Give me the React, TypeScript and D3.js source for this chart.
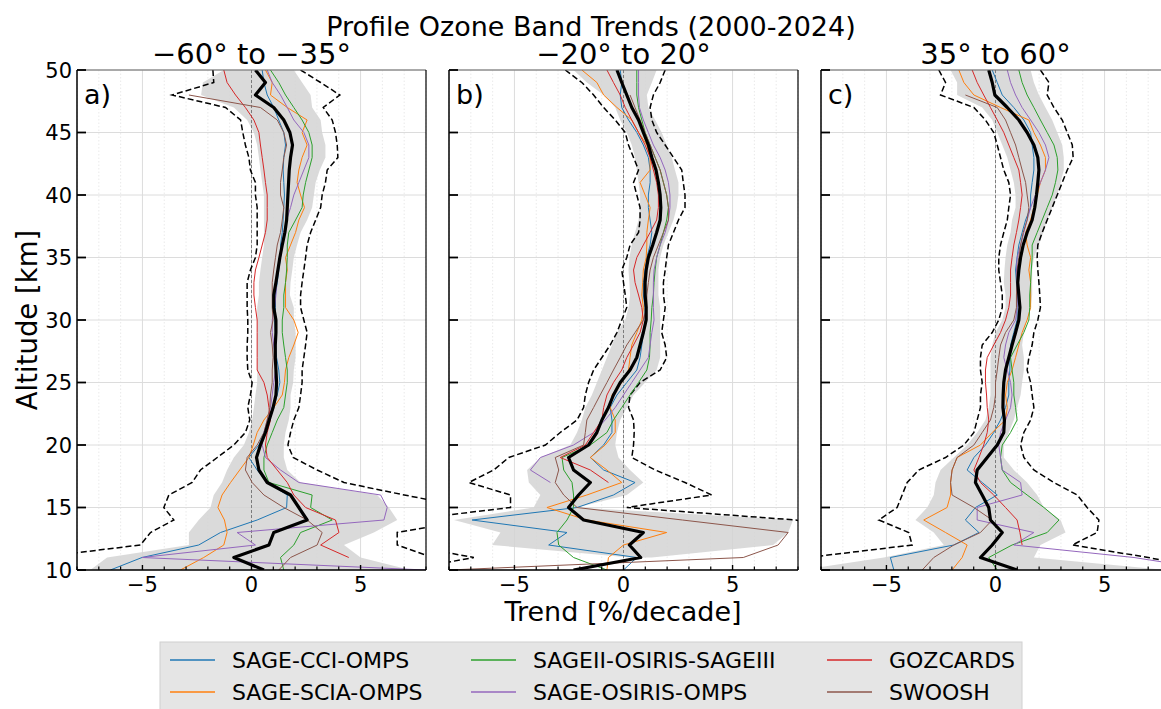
import React from 'react';
import * as d3 from 'd3';

// Altitude grid (km), top to bottom
const ALT = [50,49,48,47,46,45,44,43,42,41,40,39,38,37,36,35,34,33,32,31,30,29,28,27,26,25,24,23,22,21,20,19,18,17,16,15,14,13,12,11,10];

const SERIES_NAMES = ['SAGE-CCI-OMPS','SAGE-SCIA-OMPS','SAGEII-OSIRIS-SAGEIII','SAGE-OSIRIS-OMPS','GOZCARDS','SWOOSH'];
const SERIES_COLORS = ['#1f77b4','#ff7f0e','#2ca02c','#9467bd','#d62728','#8c564b'];
const PANEL_TITLES = ['\u221260\u00b0 to \u221235\u00b0','\u221220\u00b0 to 20\u00b0','35\u00b0 to 60\u00b0'];
const PANEL_LETTERS = ['a)','b)','c)'];
const X_TICKS = [-5,0,5];
const X_MINOR = [-8,-7,-6,-4,-3,-2,-1,1,2,3,4,6,7,8];
const Y_TICKS = [10,15,20,25,30,35,40,45,50];

type V = number | null;

// ---------- Panel a: -60 to -35 ----------
const A_MEAN: V[] = [0.18,0.64,0.18,1.02,1.48,1.76,1.88,1.79,1.73,1.70, 1.67,1.64,1.61,1.53,1.41,1.30,1.21,1.12,1.02,1.02, 1.12,1.12,1.09,1.09,1.12,1.15,1.12,0.99,0.81,0.64, 0.41,0.23,0.34,0.72,1.79,2.17,2.55,1.02,0.80,-0.81, 0.57];
const A_SHADE_LO: V[] = [-1.27,-2.23,-2.31,-0.81,-0.20,0.11,0.26,0.34,0.41,0.49, 0.57,0.57,0.57,0.57,0.57,0.49,0.41,0.34,0.34,0.26, 0.26,0.26,0.26,0.26,0.26,0.26,0.18,0.11,0.03,-0.12, -0.35,-0.81,-1.12,-1.35,-1.73,-1.88,-2.42,-2.87,-2.87,-6.62, -7.39];
const A_SHADE_HI: V[] = [1.94,2.32,2.71,2.78,3.17,3.24,3.39,3.39,3.13,2.94, 2.86,2.78,2.55,2.25,2.09,1.94,1.87,1.79,1.76,1.94, 1.94,2.02,2.02,2.02,1.94,1.91,1.79,1.79,1.71,1.56, 1.48,1.48,1.64,2.25,5.76,6.30,6.68,5.61,4.24,5.00, 7.29];
const A_DASH_LO: V[] = [-1.77,-1.73,-3.64,-1.19,-0.50,-0.40,-0.28,-0.12,-0.05,0.18, 0.18,0.26,0.26,0.26,0.26,0.18,-0.05,-0.20,-0.20,-0.20, -0.17,-0.17,-0.20,-0.20,-0.17,0.03,-0.05,-0.17,-0.08,-0.28, -0.81,-1.57,-2.34,-2.72,-3.79,-4.02,-3.56,-4.63,-5.09,-9.8, -10];
const A_DASH_HI: V[] = [2.25,3.17,4.05,3.29,3.70,3.85,3.93,3.96,3.47,3.39, 3.24,3.17,2.94,2.71,2.55,2.48,2.40,2.32,2.25,2.25, 2.40,2.55,2.48,2.40,2.32,2.32,2.25,2.17,1.94,1.79, 1.67,1.91,3.01,4.24,7.0,10,10,6.68,6.68,8.3, 10];
const A_CCI: V[] = [0.49,0.57,0.72,1.02,1.25,1.48,1.56,1.48,1.45,1.48, 1.51,1.48,1.45,1.41,1.33,1.33,1.25,1.18,1.10,1.10, 1.06,1.10,1.10,1.15,1.25,1.30,1.18,1.02,0.80,0.57, 0.34,-0.12,0.26,0.72,1.64,1.61,0.26,-1.42,-2.42,-5.02, -6.47];
const A_SCIA: V[] = [0.64,0.95,0.87,1.64,2.55,2.32,2.55,2.32,2.17,2.09, 2.25,2.43,2.17,2.02,1.79,1.56,1.64,1.56,1.56,1.56, 1.94,2.14,1.94,1.71,1.56,1.51,1.41,1.02,0.57,0.26, 0.08,-0.12,-0.54,-0.96,-1.35,-1.54,-1.24,-1.12,-1.27,-2.19, -3.26];
const A_SAGEII: V[] = [0.87,1.25,1.56,1.94,2.32,2.63,2.78,2.78,2.63,2.48, 2.37,2.32,2.02,1.71,1.64,1.64,1.61,1.56,1.48,1.48, 1.41,1.41,1.48,1.56,1.64,1.64,1.56,1.48,1.18,0.95, 0.72,0.57,0.57,0.80,2.78,2.71,3.70,2.25,1.94,1.33, 1.48];
const A_OSIRIS: V[] = [0.72,0.95,1.33,1.64,1.94,2.40,2.63,2.63,2.40,2.17, 1.94,1.79,1.61,1.48,1.41,1.33,1.21,1.15,1.12,1.06, 0.95,0.95,1.02,1.10,1.10,1.02,0.95,0.87,0.72,0.57, 0.49,0.64,1.33,2.17,5.92,6.22,6.07,-0.66,0.18,-5.02, 7.98];
const A_GOZ: V[] = [-1.27,-1.12,-0.73,-0.28,0.11,0.34,0.41,0.49,0.57,0.64, 0.72,0.72,0.72,0.64,0.49,0.34,0.18,0.11,0.11,0.18, 0.26,0.26,0.26,0.26,0.26,0.57,0.72,0.80,0.87,0.72, 0.64,0.72,1.18,1.64,1.94,2.48,3.85,4.01,3.17,4.46, null];
const A_SWOOSH: V[] = [null,null,-2.87,0.41,1.18,1.48,1.61,1.48,1.41,1.33, 1.33,1.48,1.41,1.33,1.18,1.10,1.02,0.95,0.95,0.95, 0.99,0.87,0.95,0.99,0.95,0.95,0.87,0.84,0.72,0.57, 0.26,-0.20,-0.28,0.03,0.57,1.48,2.55,3.24,3.01,1.79, 1.25];

// ---------- Panel b: -20 to 20 ----------
const B_MEAN: V[] = [-0.30,-0.08,0.15,0.38,0.69,0.91,1.14,1.30,1.49,1.60, 1.68,1.71,1.68,1.52,1.34,1.14,1.04,0.99,0.99,1.04, 1.04,0.91,0.76,0.61,0.30,-0.15,-0.46,-0.69,-0.99,-1.22, -1.60,-2.52,-2.29,-1.52,-2.06,-2.52,-1.83,0.91,0.27,0.79, -2.29];
const B_SHADE_LO: V[] = [-2.29,-1.68,-0.91,-0.38,-0.15,0.15,0.38,0.53,0.61,0.69, 0.76,0.76,0.69,0.53,0.38,0.27,0.23,0.27,0.30,0.23, 0.08,-0.30,-0.53,-0.76,-0.99,-1.22,-1.45,-1.75,-1.91,-2.13, -2.44,-3.81,-4.42,-4.34,-3.81,-4.12,-7.77,-5.64,-6.02,0.30, null];
const B_SHADE_HI: V[] = [1.52,1.30,1.07,1.14,1.45,1.75,1.98,2.21,2.36,2.52, 2.52,2.44,2.29,2.06,1.83,1.68,1.60,1.60,1.60,1.68, 1.68,1.68,1.68,1.68,1.52,0.99,0.46,0.15,-0.15,-0.30, -0.38,-0.23,0.30,0.91,0.15,-2.13,7.77,7.55,6.86,1.30, null];
const B_DASH_LO: V[] = [-2.67,-1.91,-1.37,-0.91,-0.38,0.08,0.23,0.46,0.69,0.46, 0.61,0.76,0.76,0.69,0.30,0.15,-0.08,0.00,0.08,0.15, -0.08,-0.30,-0.61,-0.99,-1.37,-1.60,-1.75,-1.83,-2.13,-2.90, -3.58,-5.26,-5.95,-7.09,-5.18,-5.18,-10,-10,-10,-6.86, -10];
const B_DASH_HI: V[] = [1.91,1.68,1.37,1.22,1.30,1.52,1.91,2.29,2.67,2.74, 2.82,2.82,2.52,2.29,2.06,1.98,1.91,1.83,1.83,1.91, 1.83,1.75,1.91,1.98,1.68,0.76,0.30,0.23,0.46,0.49, 0.46,0.38,1.45,2.82,4.04,0.15,7.9,10,10,10, 10];
const B_CCI: V[] = [-0.15,-0.08,-0.15,-0.08,0.23,0.61,0.91,1.14,1.22,1.22, 1.14,1.14,1.22,1.30,1.22,1.07,0.99,0.91,0.91,0.99, 0.99,0.91,0.84,0.76,0.61,0.15,-0.30,-0.61,-0.53,-0.53, -0.91,-1.52,-0.91,0.53,-0.46,-2.13,-6.94,-2.59,-3.43,0.61, 0.00];
const B_SCIA: V[] = [-1.91,-1.22,-0.91,-0.30,0.38,0.69,1.07,1.22,1.22,0.76, 0.99,1.22,1.14,1.07,1.07,1.04,0.91,0.88,0.84,0.91, 0.84,0.61,0.38,0.30,0.23,-0.08,-0.53,-0.61,-0.38,-0.38, -0.84,-1.52,-0.76,-0.08,-1.68,-3.51,-1.68,1.98,0.00,-0.69, -0.76];
const B_SAGEII: V[] = [0.61,0.61,0.61,0.69,0.84,0.99,1.22,1.45,1.68,1.83, 1.98,2.06,1.98,1.83,1.68,1.52,1.45,1.40,1.37,1.30, 1.27,1.22,1.22,1.19,1.07,0.69,0.30,-0.08,-0.46,-0.76, -1.52,-2.82,-2.74,-2.36,-2.29,-2.29,-2.59,-3.05,-2.97,-2.29, -0.76];
const B_OSIRIS: V[] = [0.69,0.69,0.69,0.73,0.91,1.14,1.37,1.68,1.91,2.06, 2.13,2.13,2.06,1.91,1.68,1.52,1.40,1.37,1.37,1.37, 1.40,1.30,1.22,1.14,0.76,0.38,0.00,-0.38,-0.84,-1.37, -2.29,-3.81,-4.27,-3.35,null,null,null,null,null,null, null];
const B_GOZ: V[] = [-0.76,-0.46,-0.15,0.08,0.38,0.69,0.99,1.22,1.37,1.52, 1.60,1.60,1.52,1.22,0.91,0.61,0.46,0.53,0.69,0.84, 0.91,0.76,0.46,0.15,-0.08,-0.46,-0.76,-0.91,-0.99,-1.37, -1.75,-2.90,-1.52,-0.69,null,null,null,null,null,null, null];
const B_SWOOSH: V[] = [null,null,0.30,0.53,0.76,0.99,1.22,1.45,1.68,1.83, 1.98,2.06,2.06,1.83,1.60,1.37,1.22,1.14,1.07,1.07, 0.91,0.53,0.15,-0.15,-0.46,-0.76,-1.07,-1.37,-1.68,-1.75, -1.83,-3.13,-2.97,-3.13,-2.74,-2.13,2.70,7.55,7.09,5.49, -8.0];

// ---------- Panel c: 35 to 60 ----------
const C_MEAN: V[] = [-0.31,-0.15,-0.03,0.54,1.07,1.45,1.76,1.94,1.99,1.94, 1.88,1.80,1.68,1.45,1.27,1.15,1.07,1.02,1.07,1.12, 1.07,0.92,0.76,0.61,0.46,0.38,0.35,0.34,0.41,0.38, 0.08,-0.38,-0.84,-0.92,-0.61,-0.31,-0.23,0.31,-0.15,-0.69, 0.99];
const C_SHADE_LO: V[] = [-2.06,-1.76,-1.76,-0.61,-0.15,0.08,0.31,0.54,0.69,0.84, 0.92,0.92,0.76,0.69,0.54,0.46,0.41,0.38,0.46,0.46, 0.31,0.00,-0.15,-0.23,-0.23,-0.23,-0.23,-0.31,-0.46,-0.84, -1.30,-1.91,-2.52,-2.75,-2.83,-3.13,-3.67,-2.83,-2.37,-5.12, -8.9];
const C_SHADE_HI: V[] = [1.61,1.76,1.99,2.29,2.60,2.83,3.06,3.13,3.13,2.98, 2.83,2.60,2.37,2.19,1.99,1.76,1.68,1.68,1.68,1.61, 1.45,1.30,1.22,1.30,1.30,1.22,1.15,0.99,0.84,0.61, 0.38,0.38,0.84,1.45,1.91,2.22,2.98,3.21,2.06,1.76, 7.87];
const C_DASH_LO: V[] = [-2.60,-2.29,-2.52,-0.99,-0.46,-0.08,0.08,0.23,0.38,0.61, 0.69,0.61,0.54,0.38,0.23,0.15,0.15,0.23,0.31,0.31, 0.15,-0.15,-0.61,-0.69,-0.69,-0.61,-0.69,-0.69,-0.84,-0.99, -1.45,-2.29,-3.52,-4.05,-4.28,-4.51,-5.35,-3.98,-3.82,-8.6, -10];
const C_DASH_HI: V[] = [2.06,2.45,2.37,2.68,3.06,3.29,3.52,3.56,3.29,3.06, 2.83,2.60,2.37,2.14,1.94,1.91,1.94,1.99,2.03,2.06, 1.94,1.76,1.68,1.53,1.45,1.61,1.68,1.76,1.61,1.30, 1.15,1.30,1.76,2.68,3.75,4.20,4.74,4.66,3.52,7.0, 10];
const C_CCI: V[] = [-0.15,0.08,0.31,0.84,1.30,1.61,1.68,1.76,1.76,1.68, 1.61,1.61,1.38,1.22,1.07,0.99,0.92,0.96,0.99,0.99, 0.99,0.84,0.69,0.66,0.66,0.61,0.61,0.46,0.23,-0.08, -0.46,-0.99,-1.30,-0.61,0.08,-0.92,-1.38,-0.76,-1.91,-4.82, -4.66];
const C_SCIA: V[] = [-1.68,-1.45,-0.99,0.23,1.53,1.76,2.06,2.29,2.29,2.06, 1.91,1.76,1.61,1.38,1.45,1.61,1.53,1.61,1.61,1.61, 1.45,1.22,1.07,0.92,0.76,0.54,0.46,0.54,0.46,-0.15, -0.69,-1.76,-1.99,-2.06,-2.06,-2.22,-3.29,-2.29,-1.30,-1.53, -1.99];
const C_SAGEII: V[] = [1.07,1.22,1.45,1.76,2.06,2.37,2.68,2.83,2.86,2.75, 2.60,2.37,2.14,1.91,1.68,1.68,1.64,1.61,1.57,1.57, 1.53,1.30,0.99,0.69,0.76,0.84,0.84,0.92,0.99,0.69, 0.31,0.23,0.31,0.69,1.45,2.22,2.91,2.37,0.76,-0.31, 0.08];
const C_OSIRIS: V[] = [0.54,0.69,0.92,1.22,1.61,1.99,2.29,2.45,2.29,2.06, 1.83,1.61,1.45,1.30,1.15,0.99,0.96,0.99,0.99,0.99, 0.92,0.61,0.46,0.38,0.54,0.69,0.76,0.69,0.46,0.23, 0.15,0.23,0.31,1.15,1.22,-0.84,-0.84,1.76,0.84,6.35, 10];
const C_GOZ: V[] = [-1.07,-0.84,-0.54,-0.23,0.08,0.38,0.61,0.84,1.07,1.15, 1.22,1.15,1.07,0.96,0.84,0.76,0.69,0.69,0.69,0.61, 0.46,0.23,-0.08,-0.38,-0.46,-0.46,-0.41,-0.38,-0.31,-0.38, -0.54,-0.76,-0.99,-0.69,-0.08,0.46,0.99,1.12,1.22,null, null];
const C_SWOOSH: V[] = [null,null,-1.38,0.08,0.46,0.69,0.92,1.07,1.22,1.38, 1.45,1.53,1.45,1.27,1.15,1.07,0.99,0.99,0.96,0.96, 0.84,0.46,0.23,0.15,0.08,0.00,0.00,-0.08,-0.23,-0.61, -0.99,-1.76,-1.99,-2.06,-1.99,-0.99,-0.15,-0.69,-1.91,-2.83, -3.36];

type PanelData = { mean: V[]; lo: V[]; hi: V[]; dlo: V[]; dhi: V[]; series: V[][] };
const PANELS: PanelData[] = [
  { mean: A_MEAN, lo: A_SHADE_LO, hi: A_SHADE_HI, dlo: A_DASH_LO, dhi: A_DASH_HI, series: [A_CCI, A_SCIA, A_SAGEII, A_OSIRIS, A_GOZ, A_SWOOSH] },
  { mean: B_MEAN, lo: B_SHADE_LO, hi: B_SHADE_HI, dlo: B_DASH_LO, dhi: B_DASH_HI, series: [B_CCI, B_SCIA, B_SAGEII, B_OSIRIS, B_GOZ, B_SWOOSH] },
  { mean: C_MEAN, lo: C_SHADE_LO, hi: C_SHADE_HI, dlo: C_DASH_LO, dhi: C_DASH_HI, series: [C_CCI, C_SCIA, C_SAGEII, C_OSIRIS, C_GOZ, C_SWOOSH] },
];

// legend layout: column order in matplotlib (ncol=3)
const LEGEND_ORDER = [[0, 1], [2, 3], [4, 5]];

const W = 1161, H = 709;
const PANEL_LEFT = [77, 449, 821];
const PW = 349;
const TOP = 70, BOTTOM = 570;
const FONT = 'DejaVu Sans, Liberation Sans, sans-serif';

function Panel({ idx }: { idx: number }) {
  const d = PANELS[idx];
  const x0 = PANEL_LEFT[idx];
  const x = d3.scaleLinear().domain([-8, 8]).range([x0, x0 + PW]);
  const y = d3.scaleLinear().domain([10, 50]).range([BOTTOM, TOP]);

  const line = (vals: V[]) =>
    d3.line<number>()
      .defined((i) => vals[i] != null)
      .x((i) => x(vals[i] as number))
      .y((i) => y(ALT[i]))(ALT.map((_, i) => i)) || '';

  const area = d3.area<number>()
    .defined((i) => d.lo[i] != null && d.hi[i] != null)
    .y((i) => y(ALT[i]))
    .x0((i) => x(d.lo[i] as number))
    .x1((i) => x(d.hi[i] as number))(ALT.map((_, i) => i)) || '';

  const clipId = `clip-${idx}`;
  return (
    <g>
      <defs>
        <clipPath id={clipId}>
          <rect x={x0} y={TOP} width={PW} height={BOTTOM - TOP} />
        </clipPath>
      </defs>
      {/* minor grid */}
      {X_MINOR.map((t) => (
        <line key={`mg${t}`} x1={x(t)} x2={x(t)} y1={TOP} y2={BOTTOM} stroke="#e4e4e4" strokeWidth={0.8} strokeDasharray="1.5,2" />
      ))}
      {/* major grid */}
      {X_TICKS.map((t) => (
        <line key={`gx${t}`} x1={x(t)} x2={x(t)} y1={TOP} y2={BOTTOM} stroke="#dcdcdc" strokeWidth={1} />
      ))}
      {Y_TICKS.map((t) => (
        <line key={`gy${t}`} x1={x0} x2={x0 + PW} y1={y(t)} y2={y(t)} stroke="#dcdcdc" strokeWidth={1} />
      ))}
      <g clipPath={`url(#${clipId})`}>
        <path d={area} fill="#d3d3d3" fillOpacity={0.85} stroke="none" />
        <line x1={x(0)} x2={x(0)} y1={TOP} y2={BOTTOM} stroke="#555" strokeWidth={0.7} strokeDasharray="3,2" />
        <path d={line(d.dlo)} fill="none" stroke="#000" strokeWidth={1.5} strokeDasharray="6,3" />
        <path d={line(d.dhi)} fill="none" stroke="#000" strokeWidth={1.5} strokeDasharray="6,3" />
        {d.series.map((s, i) => (
          <path key={`s${i}`} d={line(s)} fill="none" stroke={SERIES_COLORS[i]} strokeWidth={1} strokeLinejoin="round" />
        ))}
        <path d={line(d.mean)} fill="none" stroke="#000" strokeWidth={3.2} strokeLinejoin="round" />
      </g>
      {/* spines */}
      <line x1={x0} x2={x0 + PW} y1={TOP} y2={TOP} stroke="#666" strokeWidth={1.2} />
      <line x1={x0 + PW} x2={x0 + PW} y1={TOP} y2={BOTTOM} stroke="#000" strokeWidth={1.2} />
      <line x1={x0} x2={x0 + PW} y1={BOTTOM} y2={BOTTOM} stroke="#000" strokeWidth={1.5} />
      <line x1={x0} x2={x0} y1={TOP} y2={BOTTOM} stroke="#000" strokeWidth={1.5} />
      {/* y ticks (inward) */}
      {Y_TICKS.map((t) => (
        <line key={`ty${t}`} x1={x0} x2={x0 + 9} y1={y(t)} y2={y(t)} stroke="#000" strokeWidth={1.8} />
      ))}
      {idx === 0 && Y_TICKS.map((t) => (
        <text key={`ly${t}`} x={x0 - 5} y={y(t)} dy="0.36em" textAnchor="end" fontSize={21} fontFamily={FONT}>{t}</text>
      ))}
      {/* x ticks (inward) */}
      {X_MINOR.map((t) => (
        <line key={`tmx${t}`} x1={x(t)} x2={x(t)} y1={BOTTOM} y2={BOTTOM - 3.5} stroke="#000" strokeWidth={1.2} />
      ))}
      {X_TICKS.map((t) => (
        <line key={`tx${t}`} x1={x(t)} x2={x(t)} y1={BOTTOM} y2={BOTTOM - 5} stroke="#000" strokeWidth={1.4} />
      ))}
      {X_TICKS.map((t) => (
        <text key={`lx${t}`} x={x(t)} y={592} textAnchor="middle" fontSize={21} fontFamily={FONT}>{t < 0 ? `\u2212${Math.abs(t)}` : `${t}`}</text>
      ))}
      <text x={x0 + 7} y={104} fontSize={27} fontFamily={FONT}>{PANEL_LETTERS[idx]}</text>
      <text x={x(0)} y={63.5} textAnchor="middle" fontSize={29} fontFamily={FONT}>{PANEL_TITLES[idx]}</text>
    </g>
  );
}

export default function App() {
  const legendCols = [170, 471, 827];
  const legendRows = [660, 692];
  return (
    <svg width={W} height={H} style={{ position: 'absolute', left: 0, top: 0, background: '#fff' }}>
      <rect x={0} y={0} width={W} height={H} fill="#fff" />
      <text x={591} y={36} textAnchor="middle" fontSize={27} fontFamily={FONT}>Profile Ozone Band Trends (2000-2024)</text>
      {PANELS.map((_, i) => <Panel key={i} idx={i} />)}
      <text x={623} y={621} textAnchor="middle" fontSize={27} fontFamily={FONT}>Trend [%/decade]</text>
      <text transform={`translate(37,${(TOP + BOTTOM) / 2}) rotate(-90)`} textAnchor="middle" fontSize={27.5} fontFamily={FONT}>Altitude [km]</text>
      {/* legend */}
      <rect x={160} y={642} width={862} height={72} fill="#e5e5e5" stroke="#d0d0d0" strokeWidth={1} />
      {LEGEND_ORDER.map((col, ci) =>
        col.map((si, ri) => (
          <g key={`lg${si}`}>
            <line x1={legendCols[ci]} x2={legendCols[ci] + 45} y1={legendRows[ri]} y2={legendRows[ri]} stroke={SERIES_COLORS[si]} strokeWidth={1.5} />
            <text x={legendCols[ci] + 62} y={legendRows[ri]} dy="0.36em" fontSize={22} fontFamily={FONT}>{SERIES_NAMES[si]}</text>
          </g>
        ))
      )}
    </svg>
  );
}
